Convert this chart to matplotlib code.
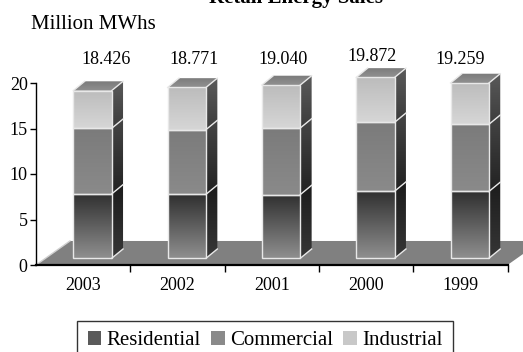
import matplotlib
matplotlib.use("Agg")
import matplotlib.pyplot as plt
import numpy as np
from matplotlib.patches import Polygon, Patch
from matplotlib.colors import LinearSegmentedColormap

# data (million MWh)
years = ["2003", "2002", "2001", "2000", "1999"]
totals = [18.426, 18.771, 19.040, 19.872, 19.259]
residential = [7.07, 7.03, 7.00, 7.37, 7.34]
commercial = [7.21, 7.11, 7.32, 7.57, 7.38]
industrial = [t - r - c for t, r, c in zip(totals, residential, commercial)]
series = ["Residential", "Commercial", "Industrial"]

plt.rcParams['font.family'] = ['Liberation Serif', 'DejaVu Serif']

W, H = 523, 352
ppu = (265 - 83) / 20.0   # pixels per unit on y
ytop = 25
fig = plt.figure(figsize=(W / 100, H / 100), dpi=100)
ax = fig.add_axes([36 / W, (H - 265) / H, (507.5 - 36) / W, ytop * ppu / H])

# 3d look, in data units
fdx, fdy = 0.36, 2.64        # floor depth
x_off, bw = -0.104, 0.407    # front face of bar
y_base = 0.74
sdx, sdy = 0.12, 1.02        # bar depth

# (front top, front bottom, side top, side bottom)
face_cols = {
    "Residential": ("#303030", "#8e8e8e", "#1c1c1c", "#363636"),
    "Commercial": ("#7b7b7b", "#8a8a8a", "#454545", "#222222"),
    "Industrial": ("#bcbcbc", "#d6d6d6", "#5a5a5a", "#3c3c3c"),
}
edge = "#e8e8e8"


def grad_poly(verts, c_top, c_bot, z):
    poly = Polygon(verts, closed=True, facecolor="none", edgecolor="none")
    ax.add_patch(poly)
    xs = [v[0] for v in verts]
    ys = [v[1] for v in verts]
    cmap = LinearSegmentedColormap.from_list("g", [c_bot, c_top])
    grad = np.linspace(0, 1, 64).reshape(-1, 1)
    im = ax.imshow(grad, cmap=cmap, origin="lower", aspect="auto",
                   extent=[min(xs), max(xs), min(ys), max(ys)],
                   interpolation="bilinear", zorder=z)
    im.set_clip_path(poly)


# floor
floor = Polygon([(-0.5, 0), (4.5, 0), (4.5 + fdx, fdy), (-0.5 + fdx, fdy)],
                closed=True, facecolor="#808080", edgecolor="none",
                zorder=1, clip_on=False)
ax.add_patch(floor)
ax.plot([-0.5, -0.5 + fdx], [0, fdy], color="#d0d0d0", lw=1, zorder=1.5)

for i in range(len(years)):
    xl = i + x_off
    xr = xl + bw
    y0 = y_base
    vals = [residential[i], commercial[i], industrial[i]]
    for s, v in zip(series, vals):
        y1 = y0 + v
        ft, fb, st, sb = face_cols[s]
        grad_poly([(xl, y0), (xr, y0), (xr, y1), (xl, y1)], ft, fb, 3)
        grad_poly([(xr, y0), (xr + sdx, y0 + sdy), (xr + sdx, y1 + sdy), (xr, y1)],
                  st, sb, 3)
        ax.add_patch(Polygon([(xl, y0), (xr, y0), (xr, y1), (xl, y1)], closed=True,
                             facecolor="none", edgecolor=edge, lw=1, zorder=4))
        ax.plot([xr, xr + sdx], [y0, y0 + sdy], color=edge, lw=1, zorder=4)
        y0 = y1
    # top face
    top = [(xl, y0), (xr, y0), (xr + sdx, y0 + sdy), (xl + sdx, y0 + sdy)]
    grad_poly(top, "#7a7a7a", "#909090", 3)
    ax.plot([xl, xl + sdx], [y0, y0 + sdy], color=edge, lw=1, zorder=4)
    ax.plot([xr, xr + sdx], [y0, y0 + sdy], color=edge, lw=1, zorder=4)
    # value label
    ax.text(i * 0.94 + 0.24, max(22.1, totals[i] + 2.5), f"{totals[i]:.3f}",
            ha="center", va="baseline", fontsize=13, clip_on=False)

ax.set_xlim(-0.5, 4.5)
ax.set_ylim(0, ytop)
for sp in ["top", "right"]:
    ax.spines[sp].set_visible(False)
ax.spines["left"].set_bounds(0, 20)
ax.spines["bottom"].set_linewidth(1.6)
ax.spines["bottom"].set_zorder(5)
ax.spines["left"].set_linewidth(1.0)
ax.set_yticks([0, 5, 10, 15, 20])
ax.tick_params(axis="y", direction="out", length=4, width=1, labelsize=13, pad=2)
ax.set_xticks(range(len(years)))
ax.set_xticklabels(years)
ax.set_xticks(np.arange(0.5, 5, 1), minor=True)
ax.tick_params(axis="x", which="major", length=0, labelsize=13, pad=9)
ax.tick_params(axis="x", which="minor", direction="out", length=5, width=1)
ax.patch.set_alpha(0)

fig.text(296 / W, 1 - 3.5 / H, "Retail Energy Sales", ha="center", va="baseline",
         fontsize=15, fontweight="bold")
fig.text(30.7 / W, 1 - 29 / H, "Million MWhs", ha="left", va="baseline", fontsize=15)

handles = [Patch(facecolor="#5a5a5a", edgecolor="none"),
           Patch(facecolor="#8a8a8a", edgecolor="none"),
           Patch(facecolor="#c8c8c8", edgecolor="none")]
leg = fig.legend(handles, series, loc="upper center", bbox_to_anchor=(265 / W, 1 - 320.7 / H),
                 ncol=3, fontsize=15, frameon=True, fancybox=False, handlelength=0.65,
                 handleheight=0.65, handletextpad=0.25, columnspacing=0.5, borderpad=0.5,
                 borderaxespad=0)
leg.get_frame().set_edgecolor("black")
leg.get_frame().set_linewidth(1)

fig.savefig("out.png", dpi=100)
